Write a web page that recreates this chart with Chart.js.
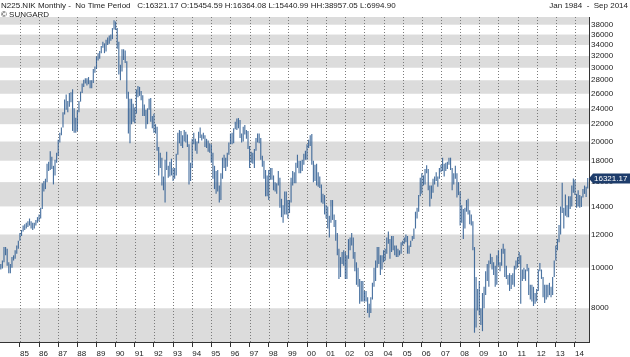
<!DOCTYPE html>
<html><head><meta charset="utf-8">
<script src="https://cdn.jsdelivr.net/npm/chart.js@4/dist/chart.umd.min.js"></script>
<style>html,body{margin:0;padding:0;background:#fff;overflow:hidden}#wrap{width:630px;height:357px;position:relative}</style>
</head><body><div id="wrap"><canvas id="c" width="630" height="357"></canvas></div>
<script>
// ---- texts ----
const titleLeft = 'N225.NIK Monthly -  No Time Period   C:16321.17 O:15454.59 H:16364.08 L:15440.99 HH:38957.05 L:6994.90';
const titleSub = '\u00a9 SUNGARD';
const titleRight = 'Jan 1984  -  Sep 2014';
const lastClose = 16321.17;

// ---- axes ----
const yearLabels = ['85','86','87','88','89','90','91','92','93','94','95','96','97','98','99','00','01','02','03','04','05','06','07','08','09','10','11','12','13','14'];
const yTicks = [8000,10000,12000,14000,16000,18000,20000,22000,24000,26000,28000,30000,32000,34000,36000,38000];
const bandRanges = [[6000,8000],[10000,12000],[14000,16000],[18000,20000],[22000,24000],[26000,28000],[30000,32000],[34000,36000],[38000,40000]];

// ---- monthly lows / highs, Jan 1984 .. Sep 2014 ----
const lows = [
 9900,9950,10300,10700,10100,9700,9700,10000,10400,10500,10800,11100,
 11600,11900,12200,12300,12400,12500,12600,12400,12300,12400,12600,12800,
 12900,13100,13800,15200,15400,16000,17000,17100,17200,15800,16600,17800,
 18500,19900,20700,21600,23200,23800,23500,24200,24800,21200,21000,21000,
 21200,23500,24900,26100,27000,27500,27200,27400,26800,26800,27600,29200,
 29800,31200,31500,32500,33500,32500,32800,34000,34200,34800,35100,37000,
 36900,33300,28900,28000,29400,31300,30800,25300,20900,19800,22000,22300,
 22100,23300,25500,25700,25100,23000,23000,21450,22000,23800,22300,21500,
 21000,20900,19000,16600,17300,15700,15300,14300,17100,16400,16500,16600,
 16100,16300,16600,18600,19800,19500,19300,20000,19900,19400,15800,16100,
 17300,19700,19000,18700,19800,20400,20100,20300,19400,19300,18900,18800,
 17800,16300,15400,15000,15200,14300,14500,16300,17300,17000,17400,18600,
 19700,19700,19800,21400,21300,21500,20400,19900,20000,20800,20300,19200,
 17300,17800,17700,17300,19000,19900,19800,18100,17400,16300,14800,14800,
 14500,16200,16200,15300,15200,15000,15700,13900,13200,12800,13400,13400,
 13100,13500,14300,15700,15900,15900,17300,16800,16800,17000,17600,18100,
 18100,19300,19500,17600,16000,16100,15700,15600,15500,14300,14200,13400,
 13100,12400,11800,12800,13000,12500,11600,10700,9400,9500,10200,10100,
 9400,9400,10500,11000,11300,10500,9800,9100,9000,8200,8300,8300,
 8300,8300,7800,7600,7800,8400,9000,9300,10000,10200,9600,9900,
 10300,10400,10800,11400,10500,10900,11000,10700,10600,10600,10700,10800,
 11300,11400,11500,10800,10800,11200,11600,11700,12400,13100,13600,14800,
 15000,15700,15800,16800,15300,14000,14600,15100,15800,16100,15600,16300,
 16900,17000,16500,17000,17200,17600,17100,15300,15800,16300,14700,14900,
 12600,12800,11700,12400,13600,13400,12700,12600,11000,6995,7200,7900,
 7700,7300,7055,8000,8600,9300,9000,10200,9900,9600,9000,9100,
 10100,9800,10100,10800,9500,9400,9100,8800,8900,9100,9000,9900,
 10000,10200,8200,9300,9400,9300,9800,8600,8400,8300,8100,8200,
 8300,8800,9800,9400,8500,8240,8400,8500,8600,8500,8600,9500,
 10400,11000,11500,12000,13500,12400,13300,13200,13200,13800,14000,15100,
 14900,13900,14000,13900,13960,14700,15000,14750,15441
];
const highs = [
 10200,10400,11200,11200,11100,10300,10200,10600,10700,11000,11300,11600,
 12100,12300,12600,12700,12800,12900,13100,12900,12800,12800,13000,13200,
 13400,13900,15900,16100,16300,17700,17900,18950,18400,17500,18100,18800,
 20200,21000,21600,23500,25200,25900,25000,26100,26200,26650,24000,22800,
 23700,25000,26300,27500,28100,28300,28300,28500,28000,28000,29800,30200,
 31900,32500,32900,33800,34600,34300,35000,35400,35800,36000,37300,38957,
 38700,37300,34600,30500,33200,33200,33000,31100,26300,25300,25300,24600,
 24100,26600,27150,27000,26400,25800,24500,23800,24000,25300,25400,23000,
 23300,22000,21700,19400,18800,18300,16500,18100,18900,17500,17900,18200,
 17300,17300,18700,21000,21300,21200,20700,21300,21100,20800,19700,17800,
 20300,21000,20300,20000,21100,21600,20800,21000,20700,20300,20100,19800,
 19700,18800,17500,17000,17100,15700,16800,18300,18600,18300,18800,19900,
 20900,21000,21500,22300,22700,22750,22500,20900,21700,21900,21300,21200,
 19500,18900,18800,19200,20400,20900,20900,20400,18500,18000,17100,16600,
 17100,17300,17300,16600,16000,15900,17000,16400,14600,14100,15200,15200,
 14500,14500,16400,17000,16900,17800,18600,18000,18000,18100,18700,19000,
 19700,20200,20700,20833,18000,17600,17700,16900,16500,15800,15000,14900,
 14100,14000,13300,14500,14500,13400,13000,12100,11100,10600,10900,11000,
 10900,10700,11700,11800,12100,11800,10900,10300,10000,9400,9300,9300,
 8800,8800,8500,8200,8500,9200,10000,10400,11200,11200,10700,10700,
 11000,11100,11800,12200,11700,11900,11900,11300,11300,11100,11000,11500,
 11600,11800,12000,11900,11300,11600,11900,12400,13600,13900,14900,16400,
 16800,16600,17200,17560,17200,15700,15700,16300,16500,16900,16500,17300,
 17600,18300,17700,17800,17900,18300,18300,17300,16800,17500,16800,16000,
 15200,14100,13800,13900,14500,14600,13700,13400,12900,11200,9500,8900,
 9300,8000,8700,9000,9800,10200,10400,10800,10600,10300,10100,10700,
 11000,10300,11100,11400,11100,10100,9600,9700,9600,9700,10100,10400,
 10600,10900,10700,9900,10000,9900,10200,10000,9100,9100,9000,8700,
 8900,9900,10255,9900,9500,9100,9100,9100,9200,9000,9500,10400,
 11300,11700,12650,14000,15942,13900,14950,14100,14800,14800,15700,16320,
 16200,15000,15300,14900,14800,15400,15700,15600,16364
];

const yearTicks = yearLabels.map((_, i) => 12 * (i + 1));
const FONT = '"Liberation Sans", Arial, sans-serif';
Chart.defaults.font.family = FONT;

const decor = {
  id: 'decor',
  beforeDraw(chart) {
    const { ctx, chartArea: a, scales: { x, y } } = chart;
    ctx.save();
    ctx.fillStyle = '#fff';
    ctx.fillRect(0, 0, chart.width, chart.height);
    ctx.fillStyle = '#dcdcdc';
    bandRanges.forEach(([lo, hi]) => {
      const t = Math.max(a.top, y.getPixelForValue(hi));
      const b = Math.min(a.bottom, y.getPixelForValue(lo));
      if (b > t) ctx.fillRect(a.left, t, a.right - a.left, b - t);
    });
    ctx.strokeStyle = '#7a7a7a';
    ctx.lineWidth = 1;
    ctx.setLineDash([1, 2]);
    yearTicks.forEach(v => {
      const px = Math.round(x.getPixelForValue(v)) + 0.5;
      ctx.beginPath(); ctx.moveTo(px, a.top); ctx.lineTo(px, a.bottom); ctx.stroke();
    });
    ctx.restore();
  },
  afterDraw(chart) {
    const { ctx, chartArea: a, scales: { y } } = chart;
    ctx.save();
    ctx.fillStyle = '#222';
    ctx.textBaseline = 'middle';
    ctx.font = '8px ' + FONT;
    ctx.textAlign = 'left';
    ctx.fillText(titleLeft, 1, 5.5, 424);
    ctx.fillText(titleSub, 1, 14.5);
    ctx.textAlign = 'right';
    ctx.fillText(titleRight, 628, 5.5);
    const yv = y.getPixelForValue(lastClose);
    ctx.fillStyle = '#1d3c6b';
    ctx.beginPath();
    ctx.moveTo(a.right, yv);
    ctx.lineTo(a.right + 4, yv - 5);
    ctx.lineTo(630, yv - 5);
    ctx.lineTo(630, yv + 5);
    ctx.lineTo(a.right + 4, yv + 5);
    ctx.closePath();
    ctx.fill();
    ctx.fillStyle = '#fff';
    ctx.textAlign = 'left';
    ctx.fillText(lastClose.toFixed(2), a.right + 5, yv + 0.5);
    ctx.restore();
  }
};

new Chart(document.getElementById('c'), {
  type: 'bar',
  data: {
    datasets: [{
      data: lows.map((lo, i) => ({ x: i, y: [lo, highs[i]] })),
      backgroundColor: 'rgba(44,90,145,0.85)',
      borderWidth: 0,
      barPercentage: 0.72,
      categoryPercentage: 1
    }]
  },
  options: {
    responsive: false,
    animation: false,
    devicePixelRatio: 1,
    layout: { padding: { left: 0, top: 17, right: 0, bottom: 0 } },
    plugins: { legend: { display: false }, tooltip: { enabled: false }, title: { display: false } },
    scales: {
      x: {
        type: 'linear', min: -0.5, max: 368.8, offset: false, bounds: 'data',
        afterBuildTicks: s => { s.ticks = yearTicks.map(v => ({ value: v })); },
        afterFit: s => { s.height = 15; },
        grid: { display: true, drawOnChartArea: false, drawTicks: true, tickLength: 5, color: '#333', offset: false },
        border: { display: true, color: '#333' },
        ticks: { autoSkip: false, maxRotation: 0, minRotation: 0, align: 'start', padding: 2, color: '#222', font: { size: 8 },
          callback: (v, i) => yearLabels[i] }
      },
      y: {
        type: 'logarithmic', position: 'right', min: 6647, max: 39642, bounds: 'data',
        afterBuildTicks: s => { s.ticks = yTicks.map(v => ({ value: v })); },
        afterFit: s => { s.width = 41; },
        grid: { drawOnChartArea: false, drawTicks: false },
        border: { display: true, color: '#333' },
        ticks: { autoSkip: false, padding: 2, color: '#222', font: { size: 8 }, callback: v => String(v) }
      }
    }
  },
  plugins: [decor]
});
</script>
</body></html>
